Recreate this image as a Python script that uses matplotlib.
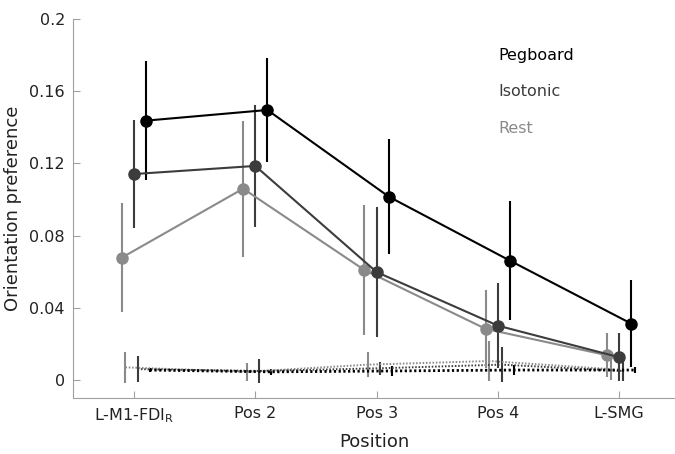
import numpy as np
import matplotlib
matplotlib.use("Agg")
import matplotlib.pyplot as plt

positions = ["L-M1-FDI$_\\mathrm{R}$", "Pos 2", "Pos 3", "Pos 4", "L-SMG"]
conditions = ["Pegboard", "Isotonic", "Rest"]

# orientation preference, mean and sem
peg_mean = [0.1437, 0.1496, 0.1016, 0.0661, 0.0312]
peg_sem = [0.033, 0.029, 0.032, 0.033, 0.024]
iso_mean = [0.1141, 0.1186, 0.0598, 0.0301, 0.0126]
iso_sem = [0.030, 0.034, 0.036, 0.0235, 0.0133]
rest_mean = [0.0678, 0.1060, 0.0609, 0.0283, 0.0137]
rest_sem = [0.030, 0.0377, 0.036, 0.0216, 0.0122]

# shuffled / null levels (dotted)
peg_null = [0.0055, 0.0045, 0.0050, 0.0055, 0.0055]
peg_null_sem = [0.0011, 0.0015, 0.0028, 0.0028, 0.0018]
iso_null = [0.0060, 0.0050, 0.0065, 0.0085, 0.0050]
iso_null_sem = [0.0072, 0.0065, 0.0037, 0.0095, 0.0055]
rest_null = [0.0070, 0.0045, 0.0085, 0.0105, 0.0060]
rest_null_sem = [0.0084, 0.0050, 0.0070, 0.0110, 0.0060]

colors = {"Pegboard": "#000000", "Isotonic": "#3c3c3c", "Rest": "#8a8a8a"}
offs = {"Pegboard": 0.1, "Isotonic": 0.0, "Rest": -0.1}

fig = plt.figure(figsize=(6.75, 4.54), dpi=100)
ax = fig.add_axes([0.1086, 0.1233, 0.8914, 0.8348])

x = np.arange(1, 6)

nulls = {"Rest": (rest_null, rest_null_sem), "Isotonic": (iso_null, iso_null_sem),
         "Pegboard": (peg_null, peg_null_sem)}
for c in ["Rest", "Isotonic", "Pegboard"]:
    m, s = nulls[c]
    lw = 2.0 if c == "Pegboard" else 1.4
    eb = ax.errorbar(x + offs[c] + 0.03, m, yerr=s, color=colors[c], lw=lw,
                     elinewidth=1.5, capsize=0, zorder=2)
    eb[0].set_dashes((0.8, 0.9))

mains = {"Rest": (rest_mean, rest_sem), "Isotonic": (iso_mean, iso_sem),
         "Pegboard": (peg_mean, peg_sem)}
for c in ["Rest", "Isotonic", "Pegboard"]:
    m, s = mains[c]
    ax.errorbar(x + offs[c], m, yerr=s, color=colors[c], lw=1.5, elinewidth=1.5,
                capsize=0, marker="o", ms=8, zorder=3)

ax.set_xlim(0.5, 5.46)
ax.set_ylim(-0.01, 0.2)
ax.set_xticks(x)
ax.set_xticklabels(positions)
ax.set_yticks([0, 0.04, 0.08, 0.12, 0.16, 0.2])
ax.set_yticklabels(["0", "0.04", "0.08", "0.12", "0.16", "0.2"])
ax.tick_params(direction="in", length=5, color="#a0a0a0", labelsize=11.5,
               labelcolor="#222222", pad=6)
for side in ["top", "right"]:
    ax.spines[side].set_visible(False)
for side in ["left", "bottom"]:
    ax.spines[side].set_color("#a0a0a0")

ax.set_xlabel("Position", fontsize=13, color="#222222", labelpad=6)
ax.set_ylabel("Orientation preference", fontsize=13, color="#222222", labelpad=5)

for c, yy in zip(conditions, [0.905, 0.808, 0.712]):
    ax.text(0.706, yy, c, transform=ax.transAxes, color=colors[c], fontsize=11.5,
            va="center", ha="left")

fig.savefig("out.png", dpi=100)
